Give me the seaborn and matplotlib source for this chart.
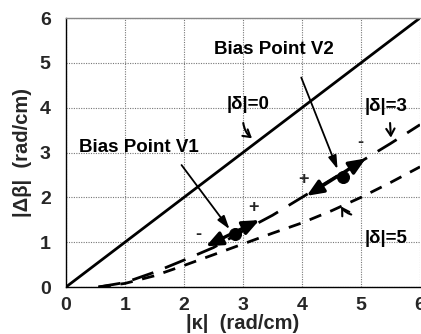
import matplotlib
matplotlib.use("Agg")
import matplotlib.pyplot as plt
import seaborn as sns
import pandas as pd
import numpy as np

# ---- data ----
kappa = [0.0, 0.5, 1.0, 1.5, 2.0, 2.5, 3.0, 3.5, 4.0, 4.5, 5.0, 5.5, 6.0]
delta0 = [0.0, 0.5, 1.0, 1.5, 2.0, 2.5, 3.0, 3.5, 4.0, 4.5, 5.0, 5.5, 6.0]
kappa_d = [0.55, 1.0, 1.5, 2.0, 2.5, 3.0, 3.5, 4.0, 4.5, 5.0, 5.5, 6.0]
delta3 = [0.0, 0.1, 0.33, 0.6, 0.88, 1.25, 1.6, 2.0, 2.4, 2.8, 3.2, 3.62]
delta5 = [0.0, 0.08, 0.25, 0.48, 0.72, 0.96, 1.2, 1.43, 1.7, 2.0, 2.33, 2.68]
bias_x = [2.86, 4.69]
bias_y = [1.18, 2.46]
ticks = [0, 1, 2, 3, 4, 5, 6]

sns.set_style("white")
plt.rcParams['font.family'] = ['Liberation Sans', 'DejaVu Sans']
plt.rcParams['font.weight'] = 'bold'

fig = plt.figure(figsize=(4.21, 3.34), dpi=100)
ax = fig.add_axes([66/421, 47/334, (420-66)/421, (287-18)/334])

df0 = pd.DataFrame({"k": kappa, "d": delta0})
df3 = pd.DataFrame({"k": kappa_d, "d": delta3})
df5 = pd.DataFrame({"k": kappa_d, "d": delta5})

sns.lineplot(data=df0, x="k", y="d", ax=ax, color="black", lw=2.0)
sns.lineplot(data=df3, x="k", y="d", ax=ax, color="black", lw=2.0)
ax.lines[-1].set_dashes([8, 4.5])
sns.lineplot(data=df5, x="k", y="d", ax=ax, color="black", lw=2.0)
ax.lines[-1].set_dashes([4.5, 3.5])
sns.scatterplot(x=bias_x, y=bias_y, ax=ax, color="black", s=75, zorder=5, edgecolor="black")

ax.set_xlim(0, 6)
ax.set_ylim(0, 6)
ax.set_xticks(ticks)
ax.set_yticks(ticks)
ax.set_xticklabels([str(t) for t in ticks], fontsize=14, fontweight='bold')
ax.set_yticklabels([str(t) for t in ticks], fontsize=14, fontweight='bold')
ax.set_xticks(np.arange(0, 6.01, 0.2), minor=True)
ax.set_yticks(np.arange(0, 6.01, 0.2), minor=True)
ax.tick_params(which='major', direction='in', length=6, width=0.8)
ax.tick_params(axis='x', which='major', pad=7)
ax.tick_params(axis='y', which='major', pad=11)
ax.tick_params(which='minor', direction='in', length=3.5, width=0.6)
ax.grid(True, which='major', color='#777777', linestyle=(0, (1, 1.2)), linewidth=0.8)
for s in ['left', 'bottom']:
    ax.spines[s].set_color('black')
    ax.spines[s].set_linewidth(1.0)
ax.spines['top'].set_color('#888888')
ax.spines['top'].set_linewidth(1.0)
ax.spines['right'].set_visible(False)

ax.set_xlabel("|κ|  (rad/cm)", fontsize=14.5, fontweight='bold', labelpad=0)
ax.set_ylabel("|Δβ|  (rad/cm)", fontsize=14.5, fontweight='bold', labelpad=6)

tk = dict(fontsize=13.5, fontweight='bold', color='black')
ax.text(2.5, 5.29, "Bias Point V2", va='center', ha='left', **tk)
ax.text(0.22, 3.12, "Bias Point V1", va='center', ha='left', **tk)
ax.text(3.08, 4.06, "|δ|=0", va='center', ha='center', **tk)
ax.text(5.42, 4.02, "|δ|=3", va='center', ha='center', **tk)
ax.text(5.42, 1.09, "|δ|=5", va='center', ha='center', **tk)

pm = dict(fontsize=13, fontweight='bold', ha='center', va='center')
ax.text(2.25, 1.16, "-", **pm)
ax.text(3.17, 1.78, "+", **pm)
ax.text(4.03, 2.39, "+", **pm)
ax.text(4.98, 3.22, "-", **pm)

# pointer arrows for bias points
thin = dict(arrowstyle='-|>,head_length=0.8,head_width=0.25', color='black', lw=1.3)
ax.annotate("", xy=(4.62, 2.57), xytext=(3.97, 4.73), arrowprops=thin)
ax.annotate("", xy=(2.80, 1.24), xytext=(1.93, 2.77), arrowprops=thin)

# double arrows along |δ|=3 curve
dbl = dict(arrowstyle='<|-|>,head_length=1.0,head_width=0.42', color='black', lw=2.4)
ax.annotate("", xy=(3.32, 1.52), xytext=(2.33, 0.88), arrowprops=dbl)
ax.annotate("", xy=(5.12, 2.9), xytext=(4.04, 2.0), arrowprops=dbl)

# label pointers
lab = dict(arrowstyle='->,head_length=0.5,head_width=0.3', color='black', lw=1.5)
ax.annotate("", xy=(3.19, 3.28), xytext=(3.0, 3.72), arrowprops=dict(connectionstyle="arc3,rad=0.25", **lab))
ax.annotate("", xy=(5.51, 3.27), xytext=(5.49, 3.72), arrowprops=lab)
ax.annotate("", xy=(4.64, 1.85), xytext=(4.88, 1.6), arrowprops=dict(connectionstyle="arc3,rad=-0.25", **lab))

fig.savefig("out.png", dpi=100)
